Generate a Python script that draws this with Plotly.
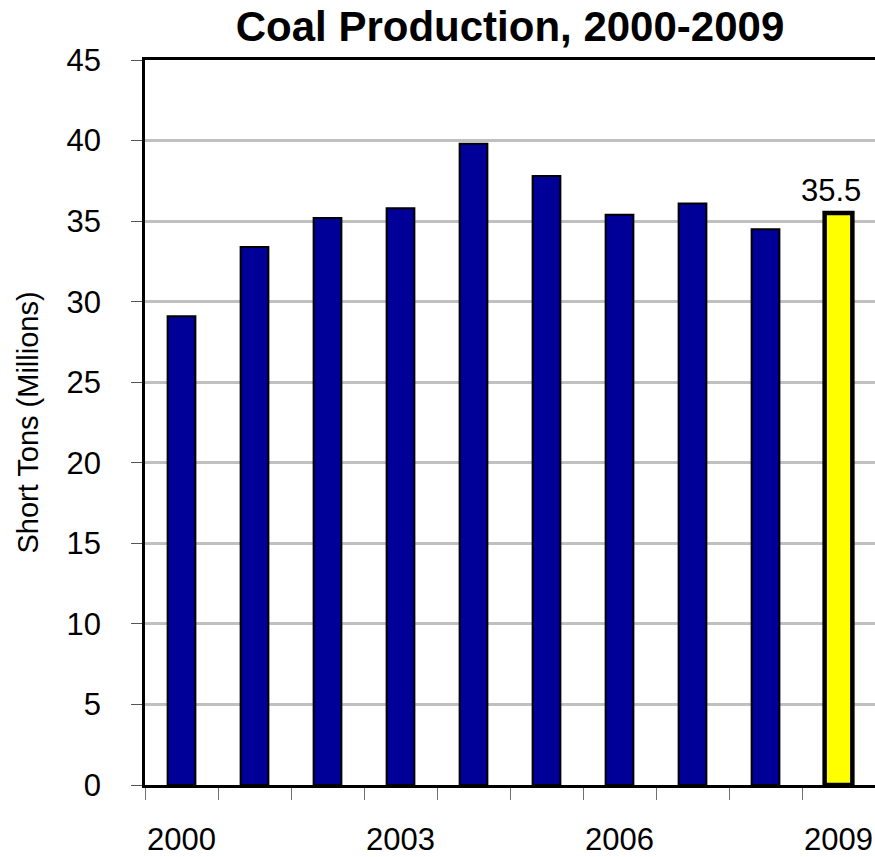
import plotly.graph_objects as go

years = ["2000", "2001", "2002", "2003", "2004", "2005", "2006", "2007", "2008", "2009"]
production = [29.1, 33.4, 35.2, 35.8, 39.8, 37.8, 35.4, 36.1, 34.5, 35.5]
tick_labels = ["2000", "", "", "2003", "", "", "2006", "", "", "2009"]
y_ticks = [0, 5, 10, 15, 20, 25, 30, 35, 40, 45]

FONT = "Liberation Sans Narrow, Liberation Sans, Arial, sans-serif"

colors = ["#000099"] * (len(years) - 1) + ["#FFFF00"]
line_widths = [2] * (len(years) - 1) + [4.5]

fig = go.Figure()
fig.add_trace(go.Bar(
    x=years,
    y=production,
    width=0.38,
    marker=dict(color=colors, line=dict(color="black", width=line_widths)),
    hoverinfo="x+y",
))

last = len(years) - 1
fig.add_annotation(
    x=last, y=production[last],
    text=f"{production[last]:.1f}",
    showarrow=False,
    yanchor="bottom",
    yshift=3, xshift=-8,
    font=dict(family=FONT, size=31, color="black"),
)

fig.update_layout(
    width=875, height=857,
    margin=dict(l=145, r=0, t=60, b=72),
    paper_bgcolor="white",
    plot_bgcolor="white",
    showlegend=False,
    title=dict(
        text="<b>Coal Production, 2000-2009</b>",
        x=0.5, xref="paper", xanchor="center",
        y=0.9526, yref="container", yanchor="bottom",
        font=dict(family="Liberation Sans, Arial, sans-serif", size=42, color="black"),
        pad=dict(t=0, b=0),
    ),
    xaxis=dict(
        type="category",
        range=[-0.5, 9.5],
        tickmode="array",
        tickvals=years,
        ticktext=tick_labels,
        tickson="boundaries",
        ticks="outside",
        ticklen=12,
        tickwidth=1,
        tickcolor="#707070",
        tickangle=0,
        automargin=False,
        ticklabelstandoff=25,
        tickfont=dict(family=FONT, size=31, color="black"),
        showline=True,
        linecolor="black",
        linewidth=2.5,
        mirror=True,
        showgrid=False,
        zeroline=False,
        fixedrange=True,
    ),
    yaxis=dict(
        range=[0, 45],
        tickmode="array",
        tickvals=y_ticks,
        ticktext=[str(v) for v in y_ticks],
        ticks="outside",
        ticklen=11,
        tickwidth=1,
        tickcolor="#555555",
        automargin=False,
        ticklabelstandoff=24,
        tickfont=dict(family=FONT, size=31, color="black"),
        showline=True,
        linecolor="black",
        linewidth=2.5,
        showgrid=True,
        gridcolor="#C0C0C0",
        gridwidth=2.5,
        zeroline=False,
        title=dict(
            text="Short Tons (Millions)",
            font=dict(family=FONT, size=29, color="black"),
            standoff=20,
        ),
        fixedrange=True,
    ),
)

page_css = "document.body.style.margin='0';document.body.style.overflow='hidden';"
fig.write_html("out.html", post_script=page_css, config={"displayModeBar": False})
